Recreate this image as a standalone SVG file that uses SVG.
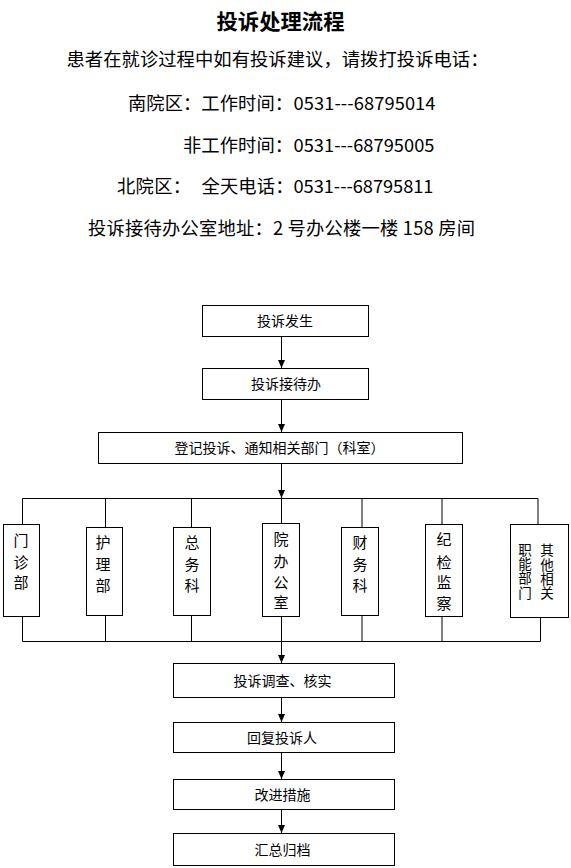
<svg xmlns="http://www.w3.org/2000/svg" width="571" height="868" viewBox="0 0 571 868">
<style>
text{font-family:"Noto Sans CJK SC","Noto Sans",sans-serif;fill:#000}
.t{font-size:18.3px}
.h{font-size:21px;font-weight:bold}
.b{fill:#fff;stroke:#000;stroke-width:1}
.l{font-size:14px;text-anchor:middle}
.v{font-size:15px;text-anchor:middle}
.w{font-size:13.5px;text-anchor:middle;writing-mode:vertical-rl;text-orientation:upright;letter-spacing:0.8px}
.c{fill:none;stroke:#000;stroke-width:1}
</style>
<defs>
<marker id="ah" markerUnits="userSpaceOnUse" markerWidth="8" markerHeight="8" refX="8" refY="3.5" orient="auto">
<path d="M0,0 L8,3.5 L0,7 z" fill="#000"/>
</marker>
</defs>
<rect width="571" height="868" fill="#fff"/>
<g id="header">
<text class="h" x="216.5" y="29" textLength="128" lengthAdjust="spacingAndGlyphs">投诉处理流程</text>
<text class="t" x="66.5" y="65.5" textLength="422">患者在就诊过程中如有投诉建议，请拨打投诉电话：</text>
<text class="t" x="128" y="110" textLength="165">南院区：工作时间：</text>
<text class="t" x="293.5" y="110" textLength="142">0531---68795014</text>
<text class="t" x="183" y="151.5" textLength="110">非工作时间：</text>
<text class="t" x="293.5" y="151.5" textLength="141">0531---68795005</text>
<text class="t" x="117" y="193" textLength="74">北院区：</text>
<text class="t" x="201.5" y="193" textLength="92">全天电话：</text>
<text class="t" x="293.5" y="193" textLength="140">0531---68795811</text>
<text class="t" x="88" y="235" textLength="387">投诉接待办公室地址：2 号办公楼一楼 158 房间</text>
</g>
<g id="connectors">
<line class="c" x1="281.5" y1="336" x2="281.5" y2="368" marker-end="url(#ah)"/>
<line class="c" x1="281.5" y1="399" x2="281.5" y2="432" marker-end="url(#ah)"/>
<line class="c" x1="281.5" y1="463" x2="281.5" y2="498" marker-end="url(#ah)"/>
<polyline class="c" points="22.5,524 22.5,498.5 538,498.5 538,524"/>
<line class="c" x1="105.5" y1="498.5" x2="105.5" y2="527"/>
<line class="c" x1="191.5" y1="498.5" x2="191.5" y2="527"/>
<line class="c" x1="281.5" y1="498.5" x2="281.5" y2="523"/>
<line class="c" x1="362" y1="498.5" x2="362" y2="527"/>
<line class="c" x1="442" y1="498.5" x2="442" y2="524"/>
<polyline class="c" points="22.5,617 22.5,641.5 540.5,641.5 540.5,618"/>
<line class="c" x1="105.5" y1="616" x2="105.5" y2="641.5"/>
<line class="c" x1="191.5" y1="616" x2="191.5" y2="641.5"/>
<line class="c" x1="281.5" y1="617" x2="281.5" y2="641.5"/>
<line class="c" x1="362" y1="616" x2="362" y2="641.5"/>
<line class="c" x1="442" y1="616" x2="442" y2="641.5"/>
<line class="c" x1="281.5" y1="641.5" x2="281.5" y2="663" marker-end="url(#ah)"/>
<line class="c" x1="281.5" y1="697" x2="281.5" y2="722" marker-end="url(#ah)"/>
<line class="c" x1="281.5" y1="752" x2="281.5" y2="779" marker-end="url(#ah)"/>
<line class="c" x1="281.5" y1="809" x2="281.5" y2="833" marker-end="url(#ah)"/>
</g>
<g id="n-occur"><rect class="b" x="202.5" y="305.5" width="166" height="31"/><text class="l" x="285" y="326">投诉发生</text></g>
<g id="n-office"><rect class="b" x="202.5" y="368.5" width="166" height="31"/><text class="l" x="286" y="389">投诉接待办</text></g>
<g id="n-register"><rect class="b" x="98.5" y="432.5" width="364" height="31"/><text class="l" x="279.5" y="453">登记投诉、通知相关部门（科室）</text></g>
<g id="d-outpatient"><rect class="b" x="3.5" y="524.5" width="36" height="92"/>
<text class="v" x="21" y="546">门</text><text class="v" x="21" y="567.5">诊</text><text class="v" x="21" y="588">部</text></g>
<g id="d-nursing"><rect class="b" x="86.5" y="527.5" width="36" height="88"/>
<text class="v" x="103" y="548">护</text><text class="v" x="103" y="570">理</text><text class="v" x="103" y="591">部</text></g>
<g id="d-general"><rect class="b" x="173.5" y="527.5" width="37" height="88"/>
<text class="v" x="192" y="548">总</text><text class="v" x="192" y="570">务</text><text class="v" x="192" y="591">科</text></g>
<g id="d-admin"><rect class="b" x="262.5" y="523.5" width="37" height="93"/>
<text class="v" x="281" y="545">院</text><text class="v" x="281" y="567">办</text><text class="v" x="281" y="587.5">公</text><text class="v" x="281" y="608">室</text></g>
<g id="d-finance"><rect class="b" x="341.5" y="527.5" width="37" height="88"/>
<text class="v" x="360" y="548">财</text><text class="v" x="360" y="570">务</text><text class="v" x="360" y="590.5">科</text></g>
<g id="d-discipline"><rect class="b" x="425.5" y="524.5" width="37" height="92"/>
<text class="v" x="444" y="545">纪</text><text class="v" x="444" y="567.5">检</text><text class="v" x="444" y="587.5">监</text><text class="v" x="444" y="608.5">察</text></g>
<g id="d-other"><rect class="b" x="510.5" y="524.5" width="58" height="93"/>
<text class="w" x="547" y="572">其他相关</text>
<text class="w" x="525" y="571.5">职能部门</text></g>
<g id="n-investigate"><rect class="b" x="173.5" y="663.5" width="221" height="34"/><text class="l" x="282.5" y="685.5">投诉调查、核实</text></g>
<g id="n-reply"><rect class="b" x="173.5" y="722.5" width="221" height="30"/><text class="l" x="282" y="742.5">回复投诉人</text></g>
<g id="n-improve"><rect class="b" x="173.5" y="779.5" width="221" height="30"/><text class="l" x="282.5" y="799.5">改进措施</text></g>
<g id="n-archive"><rect class="b" x="173.5" y="833.5" width="221" height="32"/><text class="l" x="282.5" y="854.5">汇总归档</text></g>
</svg>
